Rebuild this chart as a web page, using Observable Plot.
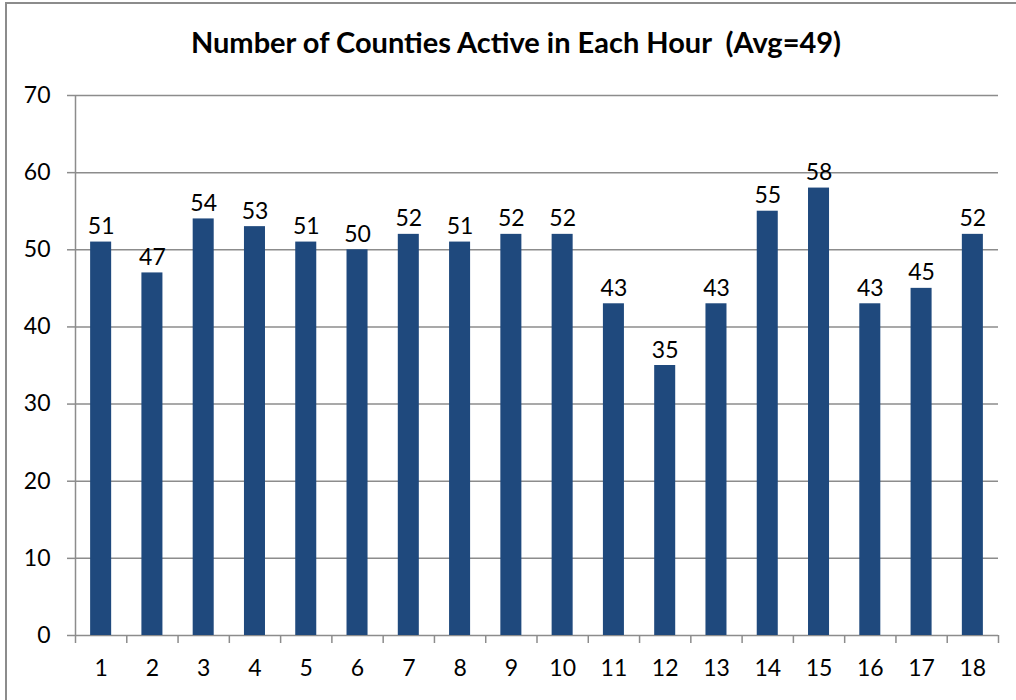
<!DOCTYPE html>
<html>
<head>
<meta charset="utf-8">
<script src="https://cdn.jsdelivr.net/npm/d3@7"></script>
<script src="https://cdn.jsdelivr.net/npm/@observablehq/plot@0.6"></script>
<style>
  html, body { margin: 0; padding: 0; background: #fff; overflow: hidden; }
  #frame { position: absolute; left: 5px; top: 2px; width: 1100px; height: 800px; border: 2px solid #8c8c8c; box-sizing: border-box; }
  #title { position: absolute; left: 0; top: 24px; width: 1032px; text-align: center; font-family: Lato, "Open Sans", sans-serif; font-weight: bold; font-size: 29px; line-height: 35px; color: #000; white-space: pre; }
  #chart { position: absolute; left: 0; top: 0; }
</style>
</head>
<body>
<div id="frame"></div>
<div id="title">Number of Counties Active in Each Hour  (Avg=49)</div>
<div id="chart"></div>
<script>
const hours = [1,2,3,4,5,6,7,8,9,10,11,12,13,14,15,16,17,18];
const counts = [51,47,54,53,51,50,52,51,52,52,43,35,43,55,58,43,45,52];
const yTicks = [0,10,20,30,40,50,60,70];

const data = hours.map((h, i) => ({hour: h, count: counts[i]}));
const boundaries = [...hours.map(h => h - 0.5), hours[hours.length - 1] + 0.5];
const halfBar = 0.205;
const gray = "#8c8c8c";
const font = "Lato, 'Open Sans', sans-serif";

const chart = Plot.plot({
  width: 1016,
  height: 700,
  marginLeft: 75,
  marginRight: 18,
  marginTop: 95,
  marginBottom: 65,
  style: {fontFamily: font, fontSize: "23px", color: "#000", background: "transparent", overflow: "visible"},
  x: {type: "linear", domain: [0.5, 18.5]},
  y: {domain: [0, 70]},
  marks: [
    Plot.gridY(yTicks, {stroke: gray, strokeOpacity: 1, strokeWidth: 1.5}),
    Plot.axisY({ticks: yTicks, tickSize: 8, tickPadding: 17, stroke: gray, strokeWidth: 1.5, label: null, fontSize: 23, fill: "#000"}),
    Plot.ruleX([0.5], {stroke: gray, strokeWidth: 1.5}),
    Plot.axisX({ticks: boundaries, tickSize: 8, tickFormat: () => "", stroke: gray, strokeWidth: 1.5, label: null}),
    Plot.axisX({ticks: hours, tickSize: 0, tickPadding: 24, tickFormat: d => String(d), label: null, fontSize: 23, fill: "#000"}),
    Plot.rectY(data, {x1: d => d.hour - halfBar, x2: d => d.hour + halfBar, y: "count", fill: "#1F497D", insetLeft: 0, insetRight: 0}),
    Plot.text(data, {x: "hour", y: "count", text: d => String(d.count), dy: -8, lineAnchor: "bottom", fontSize: 23, fill: "#000"})
  ]
});
document.getElementById("chart").appendChild(chart);
</script>
</body>
</html>
